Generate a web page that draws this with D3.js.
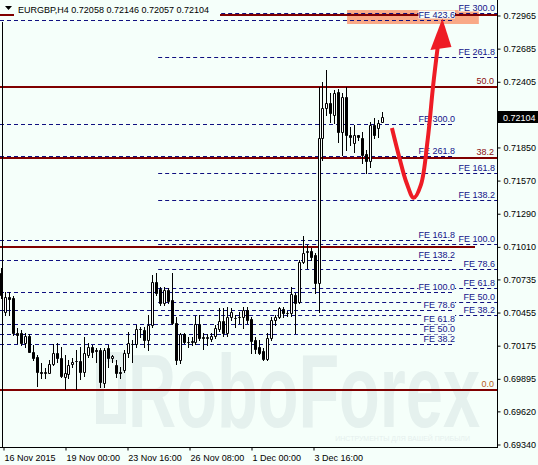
<!DOCTYPE html>
<html><head><meta charset="utf-8">
<script src="https://cdn.jsdelivr.net/npm/d3@7"></script>
<style>
html,body{margin:0;padding:0;background:#f5fffa;}
svg{display:block;font-family:"Liberation Sans",Arial,sans-serif;}
</style>
</head><body>
<svg id="chart" width="538" height="465"></svg>
<script>
// ---------------- DATA ----------------
const symbol = "EURGBP,H4";
const lastOHLC = [0.72058, 0.72146, 0.72057, 0.72104];

const open = [0.70785,0.70455,0.70582,0.70574,0.70278,0.70278,0.70193,0.70253,0.70117,0.70075,
0.69948,0.69940,0.69940,0.70016,0.70109,0.70067,0.69906,0.69931,0.70016,0.70041,
0.70041,0.69948,0.70092,0.70160,0.70134,0.70134,0.69855,0.70151,0.70067,0.70008,
0.69948,0.69965,0.70109,0.70185,0.70185,0.70312,0.70303,0.70219,0.70346,0.70709,
0.70650,0.70531,0.70641,0.70557,0.70362,0.70050,0.70269,0.70202,0.70202,0.70202,
0.70354,0.70244,0.70236,0.70227,0.70253,0.70312,0.70379,0.70278,0.70413,0.70405,
0.70413,0.70413,0.70472,0.70396,0.70219,0.70160,0.70126,0.70058,0.70236,0.70388,
0.70413,0.70481,0.70447,0.70447,0.70599,0.70540,0.70878,0.70962,0.70971,0.70937,
0.70700,0.71926,0.72179,0.72221,0.72120,0.72314,0.71976,0.72272,0.71951,0.71883,
0.71951,0.71926,0.71790,0.71731,0.72036,0.72010,0.72058];
const high = [0.70827,0.70624,0.70624,0.70591,0.70320,0.70303,0.70278,0.70269,0.70177,0.70092,
0.70024,0.69982,0.70050,0.70185,0.70193,0.70160,0.70092,0.70050,0.70067,0.70134,
0.70160,0.70244,0.70193,0.70177,0.70151,0.70151,0.70151,0.70177,0.70092,0.70050,
0.69991,0.70134,0.70286,0.70219,0.70346,0.70329,0.70329,0.70430,0.70768,0.70785,
0.70667,0.70667,0.70658,0.70785,0.70413,0.70278,0.70278,0.70244,0.70244,0.70422,
0.70430,0.70278,0.70269,0.70278,0.70346,0.70489,0.70489,0.70498,0.70489,0.70430,
0.70455,0.70498,0.70498,0.70413,0.70244,0.70219,0.70151,0.70278,0.70413,0.70430,
0.70498,0.70498,0.70464,0.70667,0.70616,0.70895,0.71098,0.71022,0.70996,0.70954,
0.72357,0.72399,0.72500,0.72306,0.72331,0.72340,0.72306,0.72357,0.72019,0.72036,
0.71955,0.71976,0.71824,0.72061,0.72095,0.72078,0.72146];
const low = [0.70574,0.70430,0.70430,0.70261,0.70193,0.70177,0.70160,0.70117,0.70050,0.69830,
0.69898,0.69898,0.69940,0.70008,0.70033,0.69906,0.69805,0.69898,0.69991,0.69805,
0.69889,0.69915,0.70075,0.70075,0.70033,0.69822,0.69822,0.69991,0.70033,0.69906,
0.69898,0.69948,0.70075,0.70033,0.70160,0.70244,0.70160,0.70134,0.70329,0.70599,
0.70515,0.70515,0.70531,0.70354,0.70016,0.70024,0.70193,0.70160,0.70177,0.70185,
0.70219,0.70143,0.70177,0.70210,0.70236,0.70295,0.70253,0.70253,0.70388,0.70329,
0.70362,0.70320,0.70362,0.70109,0.70109,0.70101,0.70050,0.70050,0.70219,0.70346,
0.70405,0.70413,0.70422,0.70422,0.70278,0.70531,0.70869,0.70827,0.70895,0.70616,
0.70455,0.71740,0.72120,0.72061,0.72052,0.71892,0.71782,0.71824,0.71867,0.71807,
0.71909,0.71714,0.71630,0.71681,0.71926,0.71934,0.72057];
const close = [0.70599,0.70582,0.70565,0.70278,0.70261,0.70193,0.70253,0.70117,0.70067,0.69948,
0.69940,0.69948,0.70016,0.70109,0.70067,0.69915,0.69940,0.70008,0.70033,0.70045,
0.69948,0.70109,0.70160,0.70117,0.70130,0.69864,0.70134,0.70067,0.70084,0.69940,
0.69944,0.70109,0.70193,0.70189,0.70312,0.70308,0.70219,0.70346,0.70709,0.70616,
0.70531,0.70641,0.70548,0.70362,0.70050,0.70269,0.70202,0.70198,0.70210,0.70354,
0.70236,0.70236,0.70244,0.70253,0.70320,0.70379,0.70278,0.70413,0.70455,0.70401,
0.70417,0.70472,0.70388,0.70210,0.70143,0.70109,0.70058,0.70236,0.70388,0.70413,
0.70489,0.70447,0.70451,0.70607,0.70531,0.70878,0.70954,0.70971,0.70920,0.70700,
0.71926,0.72179,0.72221,0.72137,0.72306,0.71976,0.72272,0.71951,0.71934,0.71951,
0.71934,0.71782,0.71731,0.72036,0.71951,0.72052,0.72104];

const priceTicks = [0.72965,0.72685,0.72405,0.71850,0.71570,0.71290,0.71010,0.70735,0.70455,0.70175,0.69895,0.69620,0.69340];
const timeLabels = ["16 Nov 2015","19 Nov 00:00","23 Nov 16:00","26 Nov 08:00","1 Dec 00:00","3 Dec 16:00"];
const timeLabelBars = [0.5,16.1,31.7,47.4,63.0,78.6];

// Fibonacci retracement (0% low, 100% high)
const retraceLevels = [0,23.6,38.2,50,61.8];
const retraceLabels = ["0.0","","38.2","50.0",""];
const retraceLow = 0.69796, retraceHigh = 0.74918;

// Fibonacci expansions: level price = c + level/100 * ab
const feLevelsA = [38.2,50,61.8,78.6,100,138.2,161.8,261.8,300,423.6];
const feAnchorsA = {c:0.69910, ab:0.00712, fromBar:-2, toBar:114.4};
const feLevelsB = [38.2,50,61.8,78.6,100,138.2,161.8,261.8,300];
const feAnchorsB = {c:0.70054, ab:0.00976, fromBar:39.6, toBar:125};

// target zone
const targetZone = {bar0:87.2, bar1:120.4, p0:0.72889, p1:0.73007};
// forecast arrow path [bar, price]
const arrowPts = [[98.5,0.72010],[100.4,0.71757],[102.2,0.71545],[104.0,0.71420],[105.8,0.71529],[107.5,0.71909],[108.9,0.72374],[110.1,0.72712]];
const arrowHead = [[111.2,0.72935],[108.2,0.72669],[113.5,0.72695]];

// ---------------- CHART ----------------
const W = 538, H = 465, plotR = 497, plotB = 447;
const svg = d3.select("#chart");
const x = d3.scaleLinear().domain([0, open.length-1]).range([1, 382]);
const y = d3.scaleLinear().domain([0.69340, 0.72965]).range([444, 15]);
const ry = p => Math.round(y(p)) + 0.5;
const rx = i => Math.round(x(i));

svg.append("rect").attr("width",W).attr("height",H).attr("fill","#f5fffa");
svg.append("defs").append("clipPath").attr("id","clip")
  .append("rect").attr("x",0).attr("y",0).attr("width",plotR).attr("height",plotB);

// watermark (behind everything)
const wm = svg.append("g").attr("fill","#e5f1ee");
wm.append("path").attr("d","M96,352 h30 v72 h-30 z M104,362 v52 h14 v-52 z").attr("fill-rule","evenodd");
wm.append("text").attr("x",128).attr("y",427).attr("font-size",104).attr("font-weight","bold")
  .attr("textLength",352).attr("lengthAdjust","spacingAndGlyphs").text("RoboForex");
wm.append("text").attr("x",470).attr("y",441).attr("text-anchor","end").attr("font-size",7)
  .attr("fill","#e6f0ee").text("ИНСТРУМЕНТЫ ДЛЯ ВАШЕЙ ПРИБЫЛИ");

const plot = svg.append("g").attr("clip-path","url(#clip)");

// target zone
plot.append("rect")
  .attr("x", x(targetZone.bar0)).attr("width", x(targetZone.bar1)-x(targetZone.bar0))
  .attr("y", y(targetZone.p1)).attr("height", y(targetZone.p0)-y(targetZone.p1))
  .attr("fill","#f9a987");

// retracement lines
const retPrice = l => retraceLow + (retraceHigh-retraceLow)*l/100;
plot.selectAll("line.ret").data(retraceLevels).join("line").attr("class","ret")
  .attr("x1",0).attr("x2", d => d===23.6 ? 475 : plotR)
  .attr("y1", d => Math.round(y(retPrice(d)))).attr("y2", d => Math.round(y(retPrice(d))))
  .attr("stroke","#800000").attr("stroke-width",2);

// expansion lines
function drawFE(levels, a, cls){
  const p = l => a.c + a.ab*l/100;
  plot.selectAll("line."+cls).data(levels).join("line").attr("class",cls)
    .attr("x1", Math.max(0,x(a.fromBar))).attr("x2", Math.min(plotR, x(a.toBar)))
    .attr("y1", d => ry(p(d))).attr("y2", d => ry(p(d)))
    .attr("stroke","#101080").attr("stroke-width",1).attr("stroke-dasharray","4,3");
}
drawFE(feLevelsA, feAnchorsA, "fea");
drawFE(feLevelsB, feAnchorsB, "feb");

// left frame line
plot.append("line").attr("x1",2.5).attr("x2",2.5).attr("y1",22).attr("y2",plotB).attr("stroke","#000");

// candles
const bars = d3.range(open.length).map(i => ({i, o:open[i], h:high[i], l:low[i], c:close[i]}));
const cg = plot.append("g");
cg.selectAll("line.wick").data(bars).join("line").attr("class","wick")
  .attr("x1", d => rx(d.i)+0.5).attr("x2", d => rx(d.i)+0.5)
  .attr("y1", d => Math.round(y(d.h))).attr("y2", d => Math.round(y(d.l))+1)
  .attr("stroke","#000");
cg.selectAll("path.body").data(bars).join("path").attr("class","body")
  .attr("d", d => {
    const x0 = rx(d.i)-0.5, x1 = rx(d.i)+1.5;
    const t = ry(Math.max(d.o,d.c)), b = ry(Math.min(d.o,d.c));
    return `M${x0},${t}H${x1}V${b}H${x0}Z`;
  })
  .attr("fill", d => d.c >= d.o ? "#ffffff" : "#000000")
  .attr("stroke","#000").attr("stroke-width",1);

// labels for levels
function feLabels(levels, a, xr){
  const p = l => a.c + a.ab*l/100;
  levels.forEach(l => {
    const py = ry(p(l));
    if (py < 0 || py > plotB) return;
    const t = plot.append("text").attr("x", xr).attr("y", py-3).attr("text-anchor","end")
      .attr("font-size",9).attr("fill","#14148a").text("FE " + l.toFixed(1));
    const bb = t.node().getBBox();
    plot.insert("rect", () => t.node()).attr("x",bb.x).attr("y",bb.y+1).attr("width",bb.width).attr("height",bb.height-2)
      .attr("fill","#f5fffa");
  });
}
feLabels(feLevelsA, feAnchorsA, 455);
feLabels(feLevelsB, feAnchorsB, 495);
retraceLevels.forEach((l,k) => {
  if (!retraceLabels[k]) return;
  plot.append("text").attr("x",494).attr("y", Math.round(y(retPrice(l)))-3).attr("text-anchor","end")
    .attr("font-size",9).attr("fill", l===0 ? "#b8601a" : "#8b1010").text(retraceLabels[k]);
});

// arrow
const line = d3.line().x(d => x(d[0])).y(d => y(d[1])).curve(d3.curveCatmullRom);
plot.append("path").attr("d", line(arrowPts)).attr("fill","none")
  .attr("stroke","#ee1c25").attr("stroke-width",4);
plot.append("path").attr("d", "M" + arrowHead.map(d => x(d[0])+","+y(d[1])).join("L") + "Z")
  .attr("fill","#ee1c25");

// header
svg.append("rect").attr("x",14).attr("y",0).attr("width",206).attr("height",17).attr("fill","#f5fffa");
svg.append("path").attr("d","M5,6 L12,6 L8.5,10 Z").attr("fill","#000");
svg.append("text").attr("x",18).attr("y",13).attr("font-size",9).attr("fill","#000")
  .text(symbol + "  " + lastOHLC.map(v => v.toFixed(5)).join(" "));

// axes frame
svg.append("line").attr("x1",plotR+0.5).attr("x2",plotR+0.5).attr("y1",0).attr("y2",plotB+1).attr("stroke","#000");
svg.append("line").attr("x1",0).attr("x2",plotR+1).attr("y1",plotB+0.5).attr("y2",plotB+0.5).attr("stroke","#000");

// right axis
const ya = svg.append("g").attr("transform",`translate(${plotR+0.5},0.5)`)
  .call(d3.axisRight(y).tickValues(priceTicks).tickSize(3).tickPadding(3).tickFormat(d3.format(".5f")));
ya.select(".domain").remove();
ya.selectAll("line").attr("stroke","#000");
ya.selectAll("text").attr("font-size",9).attr("font-family","Liberation Sans, Arial, sans-serif").attr("fill","#000");

// current price tag
const cy = y(lastOHLC[3]);
svg.append("rect").attr("x",498).attr("y",Math.round(cy)-6).attr("width",40).attr("height",12).attr("fill","#000");
svg.append("text").attr("x",503).attr("y",Math.round(cy)+3.5).attr("font-size",9).attr("fill","#fff").text(lastOHLC[3].toFixed(5));

// bottom axis
const xa = svg.append("g").attr("transform",`translate(0.5,${plotB+0.5})`)
  .call(d3.axisBottom(x).tickValues(timeLabelBars).tickSize(3).tickPadding(4).tickFormat((d,k) => timeLabels[k]));
xa.select(".domain").remove();
xa.selectAll("line").attr("stroke","#000").attr("transform", d => `translate(${Math.round(x(d))-x(d)},0)`);
xa.selectAll("text").attr("text-anchor","start").attr("dx",0.5).attr("font-size",9)
  .attr("font-family","Liberation Sans, Arial, sans-serif").attr("fill","#000");
</script>
</body></html>
